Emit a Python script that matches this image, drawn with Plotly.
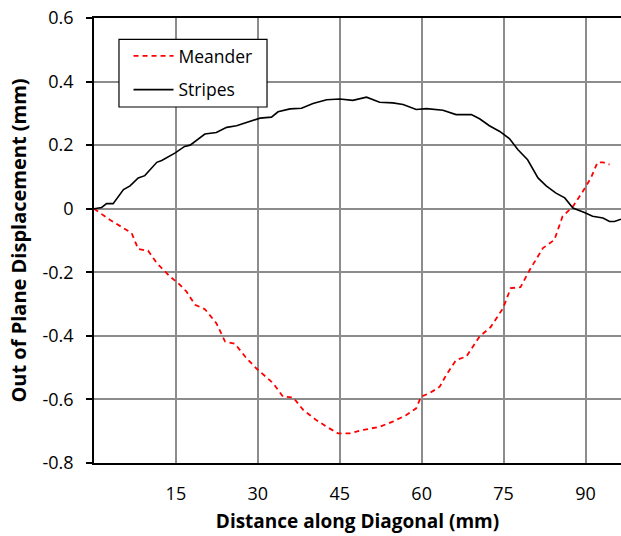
import plotly.graph_objects as go

# Out-of-plane displacement profiles along the specimen diagonal
stripes_x = [0.0, 1.4, 2.3, 3.5, 5.4, 6.6, 8.1, 9.3, 11.5, 12.4, 14.8, 16.6, 17.6,
             20.3, 22.4, 24.3, 26.1, 27.9, 30.4, 32.5, 33.7, 35.9, 38.0, 40.1, 42.6,
             45.0, 47.4, 49.9, 52.3, 54.7, 56.6, 59.0, 60.9, 63.9, 66.3, 69.1, 70.6,
             72.4, 74.3, 76.1, 77.6, 79.4, 81.3, 82.8, 84.6, 86.2, 87.7, 89.8, 91.3,
             93.2, 94.4, 95.3, 96.5]
stripes_y = [0.0, 0.004, 0.016, 0.016, 0.06, 0.072, 0.097, 0.104, 0.146, 0.152, 0.175,
             0.196, 0.20, 0.235, 0.24, 0.256, 0.261, 0.272, 0.285, 0.288, 0.305, 0.314,
             0.316, 0.331, 0.343, 0.345, 0.341, 0.351, 0.335, 0.333, 0.328, 0.312,
             0.315, 0.31, 0.296, 0.296, 0.283, 0.261, 0.243, 0.22, 0.186, 0.154, 0.097,
             0.072, 0.049, 0.034, 0.002, -0.012, -0.024, -0.029, -0.04, -0.04, -0.033]

meander_x = [0.0, 2.9, 5.4, 6.9, 8.1, 9.9, 11.5, 13.9, 15.4, 16.9, 18.5, 20.3, 22.4,
             24.0, 25.8, 27.9, 29.7, 32.8, 34.6, 36.5, 38.3, 40.7, 42.6, 44.7, 46.8,
             49.3, 52.3, 54.7, 57.2, 59.0, 59.9, 61.5, 63.3, 64.5, 66.3, 68.2, 70.6,
             72.6, 74.9, 76.3, 78.1, 79.8, 82.2, 84.3, 85.8, 87.7, 89.5, 91.0, 92.2,
             93.2, 94.4]
meander_y = [0.0, -0.035, -0.061, -0.077, -0.127, -0.132, -0.171, -0.213, -0.234,
             -0.26, -0.302, -0.316, -0.36, -0.418, -0.425, -0.47, -0.502, -0.549,
             -0.591, -0.594, -0.633, -0.665, -0.686, -0.707, -0.707, -0.696, -0.686,
             -0.67, -0.649, -0.628, -0.591, -0.58, -0.56, -0.523, -0.476, -0.465,
             -0.402, -0.373, -0.313, -0.25, -0.247, -0.192, -0.124, -0.098, -0.024,
             0.007, 0.054, 0.097, 0.146, 0.146, 0.139]

x_ticks = [15, 30, 45, 60, 75, 90]
y_ticks = [-0.8, -0.6, -0.4, -0.2, 0, 0.2, 0.4, 0.6]
y_tick_text = ["-0.8", "-0.6", "-0.4", "-0.2", "0", "0.2", "0.4", "0.6"]

FONT = "'Open Sans', Lato, sans-serif"

fig = go.Figure()
fig.add_trace(go.Scatter(x=meander_x, y=meander_y, mode="lines", name="Meander",
                         legendgroup="m",
                         line=dict(color="#ff0000", width=1.8, dash="5px,4px")))
fig.add_trace(go.Scatter(x=stripes_x, y=stripes_y, mode="lines", name="Stripes",
                         legendgroup="s",
                         line=dict(color="#000000", width=1.6)))

# Framed legend box (the legend itself sits on top, transparent)
fig.add_shape(type="rect", xref="paper", yref="paper",
              x0=0.0474, x1=0.3283, y0=0.800, y1=0.952,
              line=dict(color="#000000", width=1.2), fillcolor="white", layer="above")

fig.update_layout(
    width=621, height=536,
    margin=dict(l=94, r=0, t=18, b=73),
    paper_bgcolor="white", plot_bgcolor="white",
    font=dict(family=FONT, size=18, color="#000000"),
    showlegend=True,
    legend=dict(x=0.0655, y=0.955, xanchor="left", yanchor="top",
                bgcolor="rgba(0,0,0,0)", borderwidth=0,
                font=dict(size=17.5), traceorder="grouped", tracegroupgap=8,
                itemwidth=40),
    xaxis=dict(range=[0, 96.5], tickvals=x_ticks, ticktext=[str(v) for v in x_ticks],
               showgrid=True, gridcolor="#8c8c8c", gridwidth=1.5,
               showline=True, linecolor="#000000", linewidth=1.5, mirror=True,
               ticks="", zeroline=False, ticklabelstandoff=14,
               title=dict(text="<b>Distance along Diagonal (mm)</b>", standoff=10,
                          font=dict(size=19))),
    yaxis=dict(range=[-0.8, 0.6], tickvals=y_ticks, ticktext=y_tick_text,
               showgrid=True, gridcolor="#8c8c8c", gridwidth=1.5,
               showline=True, linecolor="#000000", linewidth=1.5,
               ticks="outside", ticklen=6, tickcolor="#000000", tickwidth=1.5,
               zeroline=False, ticklabelstandoff=9,
               title=dict(text="<b>Out of Plane Displacement (mm)</b>", standoff=11,
                          font=dict(size=20))),
)

fig.write_html("out.html")
